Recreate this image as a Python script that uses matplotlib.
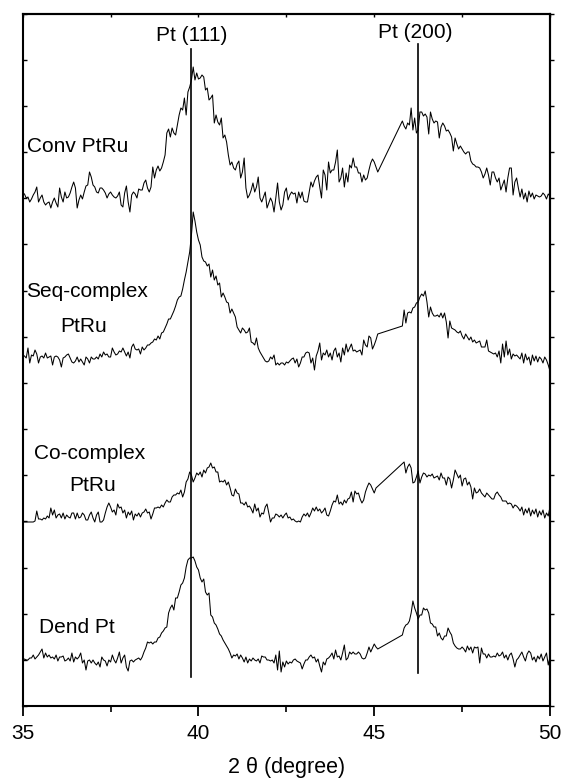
import matplotlib
matplotlib.use("Agg")
import matplotlib.pyplot as plt
import numpy as np

plt.rcParams['font.family'] = ['Liberation Sans', 'DejaVu Sans']

N = None
# 2-theta scan: 35..50 deg, step 0.05 (None = points not shown; line bridges them)
two_theta_start, two_theta_step, n_points = 35.0, 0.05, 301

conv_ptru = [
 44, 43, 39, 40, 35, 38, 42, 45, 50, 35,
 39, 42, 35, 32, 34, 35, 29, 35, 39, 34,
 30, 49, 40, 35, 45, 39, 40, 44, 50, 55,
 49, 29, 37, 42, 38, 45, 51, 52, 65, 60,
 52, 50, 45, 44, 49, 49, 47, 44, 39, 43,
 45, 42, 40, 39, 41, 45, 32, 30, 44, 51,
 35, 25, 42, 45, 43, 39, 48, 47, 47, 54,
 57, 49, 45, 50, 70, 59, 67, 71, 66, 69,
 75, 82, 104, 108, 100, 109, 104, 102, 112, 122,
 129, 127, 139, 122, 145, 150, 157, 170, 157, 164,
 158, 159, 162, 160, 147, 149, 137, 139, 142, 114,
 122, 115, 112, 119, 99, 102, 95, 82, 72, 75,
 69, 67, 73, 76, 59, 65, 79, 49, 39, 42,
 47, 54, 45, 50, 60, 39, 35, 40, 45, 29,
 34, 39, 35, 25, 39, 54, 35, 27, 32, 45,
 49, 37, 42, 45, 43, 44, 34, 45, 39, 45,
 36, 35, 35, 45, 55, 50, 56, 60, 62, 50,
 39, 67, 62, 47, 75, 64, 67, 67, 75, 87,
 55, 59, 69, 50, 64, 55, 72, 69, 79, 70,
 70, 64, 64, 55, 62, 57, 59, 67, 74, 78,
 75, 70, 65, N, N, N, N, N, N, N,
 N, N, N, N, N, N, 116, 111, 108, 114,
 112, 129, 107, 119, 104, 107, 125, 125, 121, 123,
 120, 103, 125, 118, 114, 116, 115, 99, 110, 114,
 111, 106, 107, 104, 100, 86, 99, 93, 88, 91,
 88, 85, 83, 85, 85, 76, 73, 72, 70, 70,
 69, 65, 59, 63, 69, 62, 52, 65, 65, 59,
 55, 59, 47, 52, 57, 45, 59, 69, 69, 42,
 55, 59, 49, 40, 48, 38, 44, 35, 46, 40,
 44, 38, 42, 41, 40, 41, 44, 42, 38, 43, 41]

seq_complex_ptru = [
 32, 31, 29, 39, 24, 32, 31, 37, 33, 24,
 30, 31, 29, 34, 29, 30, 31, 22, 30, 31,
 30, 27, 20, 29, 30, 32, 33, 29, 25, 24,
 26, 30, 25, 28, 25, 22, 30, 28, 24, 30,
 28, 28, 30, 28, 33, 30, 35, 32, 33, 30,
 30, 39, 35, 32, 33, 36, 35, 39, 35, 31,
 35, 29, 40, 43, 38, 37, 38, 33, 40, 37,
 39, 42, 42, 44, 45, 48, 47, 51, 48, 54,
 55, 59, 63, 68, 68, 72, 76, 81, 87, 90,
 91, 98, 107, 115, 125, 135, 152, 175, 166, 155,
 147, 142, 130, 126, 125, 121, 123, 110, 117, 107,
 111, 102, 104, 90, 94, 90, 85, 84, 74, 78,
 74, 70, 60, 57, 54, 59, 57, 54, 55, 59,
 45, 44, 42, 49, 39, 35, 32, 29, 26, 25,
 26, 30, 28, 32, 22, 24, 22, 24, 24, 22,
 25, 24, 26, 28, 29, 24, 28, 20, 24, 30,
 30, 34, 35, 34, 24, 29, 17, 31, 36, 44,
 27, 34, 32, 37, 30, 34, 27, 36, 39, 30,
 34, 25, 39, 32, 43, 35, 39, 43, 36, 37,
 35, 36, 37, 32, 47, 42, 40, 51, 49, 38,
 42, 47, 53, N, N, N, N, N, N, N,
 N, N, N, N, N, N, 61, 77, 64, 74,
 75, 74, 79, 80, 84, 85, 90, 93, 91, 96,
 85, 70, 80, 74, 71, 71, 72, 70, 74, 69,
 74, 65, 49, 66, 59, 58, 57, 55, 54, 56,
 51, 48, 53, 50, 47, 50, 45, 47, 44, 45,
 46, 40, 40, 40, 47, 36, 35, 34, 33, 34,
 30, 36, 24, 43, 30, 46, 32, 38, 28, 33,
 31, 32, 30, 28, 34, 24, 33, 27, 30, 22,
 32, 26, 31, 25, 30, 28, 24, 30, 27, 22, 16]

co_complex_ptru = [
 15, 15, 15, 15, 15, 15, 15, 16, 26, 18,
 18, 17, 19, 18, 21, 19, 29, 22, 27, 19,
 22, 23, 19, 24, 18, 22, 20, 19, 24, 24,
 18, 24, 19, 20, 24, 22, 17, 17, 22, 25,
 19, 15, 22, 25, 15, 15, 17, 24, 30, 34,
 30, 25, 27, 22, 33, 29, 30, 24, 27, 19,
 25, 22, 26, 17, 23, 21, 24, 20, 24, 25,
 28, 24, 25, 18, 23, 29, 29, 30, 29, 32,
 30, 34, 37, 35, 35, 40, 42, 42, 44, 43,
 47, 40, 45, 55, 58, 65, 62, 55, 59, 64,
 62, 65, 60, 67, 64, 69, 70, 74, 69, 70,
 65, 65, 55, 56, 55, 57, 52, 55, 49, 42,
 41, 48, 44, 43, 34, 34, 32, 35, 30, 31,
 28, 24, 33, 26, 29, 20, 24, 23, 30, 33,
 24, 15, 19, 19, 23, 22, 20, 22, 19, 22,
 24, 19, 20, 17, 18, 16, 15, 16, 15, 20,
 23, 21, 24, 20, 24, 29, 26, 30, 26, 28,
 24, 26, 29, 22, 21, 26, 32, 36, 35, 42,
 33, 35, 32, 37, 34, 38, 39, 45, 35, 46,
 43, 44, 38, 34, 37, 45, 50, 54, 52, 48,
 44, 49, N, N, N, N, N, N, N, N,
 N, N, N, N, N, N, N, 75, 64, 70,
 73, 69, 54, 55, 60, 66, 54, 60, 64, 63,
 60, 62, 61, 63, 59, 60, 61, 57, 64, 59,
 59, 52, 60, 58, 49, 57, 67, 63, 59, 62,
 51, 58, 59, 52, 55, 50, 38, 49, 44, 45,
 48, 44, 42, 40, 44, 42, 40, 38, 38, 43,
 45, 42, 40, 36, 36, 36, 33, 34, 33, 29,
 32, 31, 29, 26, 30, 22, 28, 24, 29, 21,
 27, 23, 28, 20, 26, 22, 27, 19, 24, 21, 30]

dend_pt = [
 27, 28, 27, 27, 29, 29, 32, 28, 30, 32,
 35, 38, 29, 34, 30, 32, 29, 30, 28, 32,
 26, 30, 30, 31, 26, 27, 29, 26, 34, 25,
 30, 28, 30, 34, 24, 27, 17, 26, 27, 24,
 27, 24, 22, 25, 20, 30, 27, 26, 21, 27,
 25, 32, 27, 24, 29, 35, 24, 29, 32, 20,
 16, 26, 27, 25, 27, 28, 29, 27, 30, 35,
 39, 45, 44, 45, 43, 45, 45, 49, 50, 54,
 56, 59, 60, 74, 79, 82, 77, 89, 89, 95,
 102, 104, 109, 120, 127, 129, 129, 130, 126, 120,
 117, 109, 105, 108, 95, 92, 94, 72, 70, 64,
 62, 58, 53, 51, 47, 44, 41, 38, 34, 29,
 32, 31, 33, 28, 32, 29, 25, 30, 24, 28,
 26, 29, 27, 26, 28, 24, 31, 30, 30, 27,
 27, 26, 27, 24, 32, 17, 36, 15, 25, 20,
 26, 23, 25, 24, 27, 28, 26, 25, 24, 18,
 23, 27, 27, 30, 32, 29, 30, 25, 28, 21,
 15, 25, 22, 28, 29, 31, 34, 28, 37, 30,
 31, 27, 34, 42, 27, 29, 35, 33, 35, 33,
 33, 35, 33, 29, 28, 29, 34, 40, 35, 39,
 43, 40, 38, N, N, N, N, N, N, N,
 N, N, N, N, N, N, 52, 59, 62, 63,
 66, 74, 86, 79, 74, 68, 72, 72, 79, 77,
 78, 74, 64, 63, 60, 60, 51, 54, 49, 47,
 51, 51, 59, 55, 52, 44, 41, 39, 38, 38,
 40, 38, 35, 41, 37, 40, 34, 40, 39, 40,
 24, 39, 33, 33, 29, 33, 30, 30, 31, 30,
 34, 31, 32, 35, 29, 32, 27, 32, 34, 28,
 20, 27, 29, 32, 35, 30, 26, 33, 36, 34,
 27, 30, 25, 31, 28, 33, 26, 30, 34, 22, 30]

series = [conv_ptru, seq_complex_ptru, co_complex_ptru, dend_pt]
stack_offsets = [470, 320, 170, 20]

ref_peaks = [39.79, 46.25]
ref_labels = ["Pt (111)", "Pt (200)"]

two_theta = two_theta_start + two_theta_step * np.arange(n_points)

fig = plt.figure(figsize=(5.64, 7.80), dpi=100)
ax = fig.add_axes([22.7 / 564, (780 - 706) / 780, (550 - 22.7) / 564, (706 - 13.7) / 780])

for vals, off in zip(series, stack_offsets):
    assert len(vals) == n_points
    x = [t for t, v in zip(two_theta, vals) if v is not None]
    y = [v + off for v in vals if v is not None]
    ax.plot(x, y, color='black', lw=0.75)

# reference lines
ax.plot([ref_peaks[0], ref_peaks[0]], [30, 658], color='black', lw=1.2)
ax.plot([ref_peaks[1], ref_peaks[1]], [34, 663], color='black', lw=1.2)
ax.text(39.82, 666, ref_labels[0], ha='center', va='baseline', fontsize=15)
ax.text(46.17, 669.5, ref_labels[1], ha='center', va='baseline', fontsize=15)

# sample labels
fs = 15
ax.text(35.13, 555, "Conv PtRu", ha='left', va='baseline', fontsize=fs)
ax.text(35.095, 410, "Seq-complex", ha='left', va='baseline', fontsize=fs)
ax.text(36.745, 375, "PtRu", ha='center', va='baseline', fontsize=fs)
ax.text(35.32, 248, "Co-complex", ha='left', va='baseline', fontsize=fs)
ax.text(37.0, 216, "PtRu", ha='center', va='baseline', fontsize=fs)
ax.text(35.47, 74, "Dend Pt", ha='left', va='baseline', fontsize=fs)

ax.set_xlim(35, 50)
ax.set_ylim(1, 693.3)
ax.set_xticks([35, 40, 45, 50])
ax.set_xticks([37.5, 42.5, 47.5], minor=True)
ax.set_yticks(np.linspace(1, 693.3, 16))
ax.set_yticklabels([])
ax.tick_params(axis='x', which='major', direction='out', length=7.2, width=1.3,
               labelsize=15, pad=5.5, top=False)
ax.tick_params(axis='x', which='minor', direction='out', length=4.3, width=1.2, top=False)
ax.tick_params(axis='y', which='major', direction='in', length=3, width=1.0, right=False)

secx = ax.secondary_xaxis('top')
secx.set_xticks([35, 37.5, 40, 42.5, 45, 47.5, 50])
secx.tick_params(direction='in', length=2.5, width=1.0, labeltop=False)
secy = ax.secondary_yaxis('right')
secy.set_yticks(np.linspace(1, 693.3, 16))
secy.tick_params(direction='out', length=3, width=1.0, labelright=False)
for s in list(ax.spines.values()) + list(secx.spines.values()) + list(secy.spines.values()):
    s.set_linewidth(1.5)

ax.set_xlabel("2 \u03b8 (degree)", fontsize=15.5, labelpad=10)

fig.savefig("out.png", dpi=100)
